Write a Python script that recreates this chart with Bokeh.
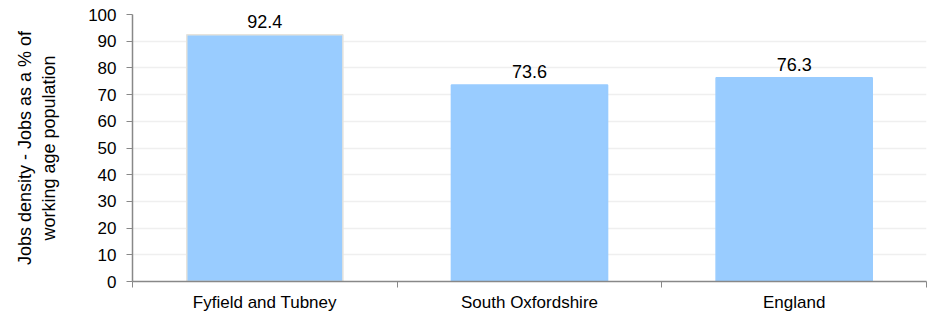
from bokeh.plotting import figure
from bokeh.models import ColumnDataSource, FixedTicker, Range1d
from bokeh.core.properties import value
from bokeh.transform import dodge
from bokeh.embed import file_html
from bokeh.resources import INLINE

categories = ["Fyfield and Tubney", "South Oxfordshire", "England"]
values = [92.4, 73.6, 76.3]
y_ticks = [0, 10, 20, 30, 40, 50, 60, 70, 80, 90, 100]
y_label = "Jobs density - Jobs as a % of\nworking age population"

FONT = "Liberation Sans"
BAR = "#99ccff"

xs = [i + 0.5 for i in range(len(categories))]
src = ColumnDataSource(dict(
    x=xs,
    top=values,
    label=[f"{v:.1f}" for v in values],
    lc=["#e6e3dc"] + [BAR] * (len(values) - 1),
))

p = figure(width=928, height=314,
           x_range=Range1d(0, len(categories)), y_range=Range1d(0, 100),
           output_backend="svg", toolbar_location=None,
           min_border_left=132, min_border_right=2,
           min_border_top=14, min_border_bottom=28)
p.outline_line_color = None
p.background_fill_color = "white"

p.vbar(x="x", top="top", width=0.59, fill_color=BAR, line_color="lc",
       line_width=1.5, source=src)
p.text(x="x", y=dodge("top", 5.0, range=p.y_range), text="label", source=src,
       text_align="center", text_baseline="alphabetic",
       text_font=value(FONT), text_font_size="18px", text_color="#000000")

# x axis
p.xaxis.ticker = FixedTicker(ticks=xs, minor_ticks=list(range(len(categories) + 1)))
p.xaxis.major_label_overrides = {x: c for x, c in zip(xs, categories)}
p.xaxis.major_tick_out = 0
p.xaxis.major_tick_in = 0
p.xaxis.minor_tick_out = 6
p.xaxis.minor_tick_in = 0
p.xaxis.minor_tick_line_color = "#888888"
p.xaxis.axis_line_color = "#888888"
p.xaxis.axis_line_width = 1.5
p.xaxis.major_label_standoff = 5
p.xaxis.major_label_text_font = FONT
p.xaxis.major_label_text_font_size = "17px"
p.xaxis.major_label_text_color = "#000000"

# y axis
p.yaxis.ticker = FixedTicker(ticks=y_ticks)
p.yaxis.major_tick_out = 6
p.yaxis.major_tick_in = 0
p.yaxis.minor_tick_line_color = None
p.yaxis.major_tick_line_color = "#888888"
p.yaxis.axis_line_color = "#888888"
p.yaxis.axis_line_width = 1.5
p.yaxis.major_label_standoff = 10
p.yaxis.major_label_text_font = FONT
p.yaxis.major_label_text_font_size = "17px"
p.yaxis.major_label_text_color = "#000000"
p.yaxis.axis_label = y_label
p.yaxis.axis_label_text_font = FONT
p.yaxis.axis_label_text_font_size = "18px"
p.yaxis.axis_label_text_font_style = "normal"
p.yaxis.axis_label_text_color = "#000000"
p.yaxis.axis_label_standoff = 26
p.yaxis.axis_label_text_align = "center"

p.xgrid.visible = False
p.ygrid.grid_line_color = "#efefef"
p.ygrid.grid_line_width = 1.5

open("out.html", "w").write(file_html(p, INLINE))
